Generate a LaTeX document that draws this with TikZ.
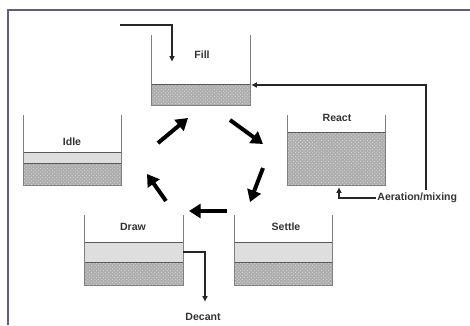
\documentclass[tikz,border=0pt]{standalone}
\usepackage{fontspec}
\setsansfont{Liberation Sans}
\usetikzlibrary{arrows.meta,patterns}
\definecolor{framegray}{RGB}{95,95,125}

\begin{document}
\begin{tikzpicture}[
  x=0.03cm, y=-0.03cm,
  font=\sffamily\bfseries\fontsize{9}{10}\selectfont,
  frame/.style={draw=framegray, line width=1.4pt},
  wall/.style={draw=black!50, line width=0.6pt},
  sludge/.style={fill=black!32, postaction={pattern=crosshatch dots, pattern color=white!85!black}},
  clearwater/.style={fill=black!13},
  layer/.style={draw=black!65, line width=0.5pt},
  tag/.style={text=black!80, inner sep=1pt},
  turn/.style={-{Triangle[length=10pt,width=12pt]}, line width=3.4pt},
  pipe/.style={-{Latex[length=5pt,width=5pt]}, line width=1.2pt, draw=black!85}
]
\useasboundingbox (0,0) rectangle (470,325);
\draw[frame] (8,325) -- (8,10) -- (470,10);

% tanks
\path[sludge] (151,84) rectangle (250,105);
\draw[layer] (151,84) rectangle (250,105);
\draw[wall] (151,35) -- (151,105) -- (250,105) -- (250,35);
\path[sludge] (287,132) rectangle (385,185);
\draw[layer] (287,132) rectangle (385,185);
\draw[wall] (287,115) -- (287,185) -- (385,185) -- (385,115);
\path[clearwater] (23,152) rectangle (121,163);
\path[sludge] (23,163) rectangle (121,185);
\draw[layer] (23,152) rectangle (121,185) (23,163) -- (121,163);
\draw[wall] (23,115) -- (23,185) -- (121,185) -- (121,115);
\path[clearwater] (84,242) rectangle (183,262);
\path[sludge] (84,262) rectangle (183,285);
\draw[layer] (84,242) rectangle (183,285) (84,262) -- (183,262);
\draw[wall] (84,215) -- (84,285) -- (183,285) -- (183,215);
\path[clearwater] (234,242) rectangle (332,262);
\path[sludge] (234,262) rectangle (332,285);
\draw[layer] (234,242) rectangle (332,285) (234,262) -- (332,262);
\draw[wall] (234,215) -- (234,285) -- (332,285) -- (332,215);

% labels
\node[tag] (fill) at (202,55) {Fill};
\node[tag] (react) at (337,118) {React};
\node[tag] (idle) at (72,142) {Idle};
\node[tag] (draw) at (133,227) {Draw};
\node[tag] (settle) at (286,227) {Settle};
\node[tag, anchor=west] (aer) at (376,198) {Aeration/mixing};
\node[tag] (decant) at (203,317) {Decant};

% cycle
\coordinate (i1) at (158,143); \coordinate (f0) at (188,118);
\coordinate (f1) at (230,120); \coordinate (r0) at (263,144);
\coordinate (r1) at (263,168); \coordinate (s0) at (250,202);
\coordinate (s1) at (227,211); \coordinate (d0) at (189,211);
\coordinate (d1) at (166,201); \coordinate (i0) at (147,174);
\draw[turn] (i1) -- (f0);
\draw[turn] (f1) -- (r0);
\draw[turn] (r1) -- (s0);
\draw[turn] (s1) -- (d0);
\draw[turn] (d1) -- (i0);

% pipes
\coordinate (inlet) at (120,25);
\coordinate (fillin) at (172,62);
\draw[pipe] (inlet) -| (fillin);
\coordinate (retback) at (426,190);
\coordinate (retin) at (251,85);
\draw[pipe] (retback) |- (retin);
\coordinate (aerin) at (339,187);
\draw[pipe] (aer.west) -| (aerin);
\coordinate (drawout) at (183,252);
\coordinate (decantend) at (205,302);
\draw[pipe] (drawout) -| (decantend);
\end{tikzpicture}
\end{document}
